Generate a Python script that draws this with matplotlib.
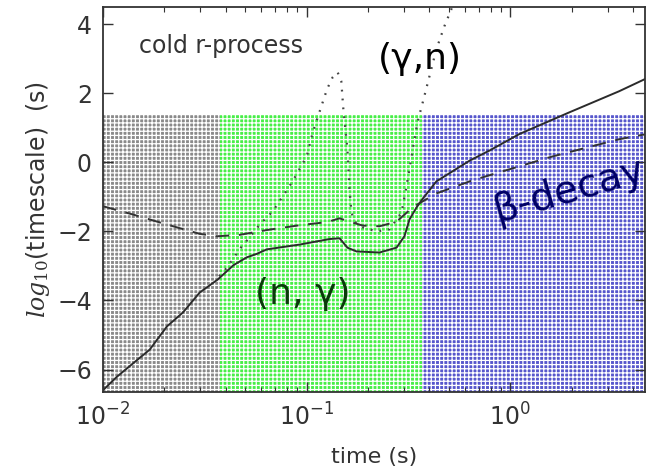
# ------------------------------------------------------------------------ #
#                                  MODULES                                 #
# ------------------------------------------------------------------------ #

import numpy as np
import matplotlib
matplotlib.use("Agg")
import matplotlib.pyplot as plt
from matplotlib.ticker import FixedLocator, LogLocator, NullFormatter

# settings
plt.rcParams['font.family'] = ['DejaVu Sans']
plt.rcParams['mathtext.fontset'] = 'dejavuserif'
plt.rcParams['hatch.linewidth'] = 0.9

# ---------------------------------------------------------------------------- #
#                                   VARIABLES                                  #
# ---------------------------------------------------------------------------- #

# total timescale (solid)
t_total = [0.0100, 0.01175, 0.01698, 0.02061, 0.02466, 0.02985, 0.03664,
           0.04365, 0.05082, 0.05689, 0.06368, 0.09247, 0.1297, 0.1452,
           0.1585, 0.1758, 0.2280, 0.2761, 0.3020, 0.3199, 0.3467, 0.3715,
           0.4335, 0.6310, 0.7943, 1.107, 1.950, 3.420, 4.571]
y_total = [-6.60, -6.20, -5.42, -4.75, -4.35, -3.77, -3.39,
           -2.98, -2.75, -2.65, -2.52, -2.38, -2.22, -2.20,
           -2.47, -2.58, -2.61, -2.47, -2.14, -1.65, -1.30, -1.05,
           -0.55, 0.05, 0.35, 0.82, 1.45, 2.06, 2.41]

# beta-decay timescale (dashed)
t_beta = [0.0100, 0.01403, 0.02061, 0.02985, 0.03631, 0.04677, 0.06368,
          0.09247, 0.1259, 0.1452, 0.1585, 0.1884, 0.2280, 0.2761,
          0.3311, 0.4335, 0.6310, 0.7621, 1.607, 3.420, 4.571]
y_beta = [-1.27, -1.51, -1.80, -2.07, -2.14, -2.10, -1.96,
          -1.82, -1.73, -1.62, -1.70, -1.83, -1.85, -1.72,
          -1.30, -0.90, -0.55, -0.40, 0.17, 0.67, 0.81]

# (gamma,n) timescale (dotted)
t_gn = [0.03715, 0.04074, 0.04677, 0.05248, 0.05888, 0.06808, 0.07621,
        0.08531, 0.1000, 0.1072, 0.1159, 0.1259, 0.1340, 0.1419, 0.1479,
        0.1514, 0.1585, 0.1622, 0.1660, 0.1718, 0.1884, 0.2203, 0.2553,
        0.2924, 0.3090, 0.3273, 0.3499, 0.3715, 0.4009, 0.4335, 0.4742,
        0.5129, 0.5370]
y_gn = [-3.30, -3.04, -2.52, -2.17, -1.80, -1.42, -0.99,
        -0.55, 0.17, 0.87, 1.48, 2.12, 2.46, 2.61, 2.35,
        1.54, 0.38, -0.78, -1.45, -1.71, -1.88, -2.00, -1.94,
        -1.45, -0.70, 0.17, 1.16, 1.74, 2.50, 3.28, 3.94,
        4.43, 4.80]

# shaded regimes
region_edges  = [0.01, 0.0375, 0.37, 4.6]
region_top    = 1.4
region_colors = ["#8a8a8a", "#48ee48", "#5656cc"]

XTICKS      = [0.01, 0.1, 1.0]
XTICKLABELS = [r"$\mathregular{10^{-2}}$", r"$\mathregular{10^{-1}}$",
               r"$\mathregular{10^{0}}$"]
YTICKS      = [-6, -4, -2, 0, 2, 4]

# ---------------------------------------------------------------------------- #
#                                   MAIN FUNC                                  #
# ---------------------------------------------------------------------------- #

fig = plt.figure(figsize=(6.46, 4.76), dpi=100)
ax = fig.add_axes([0.1594, 0.1765, 0.8396, 0.8088])

ax.set_xscale("log")
ax.set_xlim(0.01, 4.6)
ax.set_ylim(-6.65, 4.5)

# shaded regions: plain colour, then a white grid hatch on top
# (matplotlib draws 6 lines per inch for each '+', so '++++' ~ 4 px spacing)
left   = region_edges[:-1]
widths = np.diff(region_edges)
bottom = -10
ax.bar(left, region_top - bottom, width=widths, bottom=bottom, align="edge",
       color=region_colors, linewidth=0, zorder=1)
ax.bar(left, region_top - bottom, width=widths, bottom=bottom, align="edge",
       facecolor="none", edgecolor="white", hatch="++++", linewidth=0,
       zorder=1.5)

# curves
ax.plot(t_total, y_total, color="#2b2b2b", lw=1.4, zorder=3)
ax.plot(t_beta, y_beta, color="#333333", lw=1.4, ls=(0, (7, 5)), zorder=3)
ax.plot(t_gn, y_gn, color="#444444", lw=1.6, ls=(0, (0.8, 3.2)), zorder=3)

# annotations
ax.text(0.0151, 3.36, "cold r-process", fontsize=17, color="#333333",
        va="center", ha="left")
ax.text(0.358, 3.0, "(γ,n)", fontsize=26, color="black", ha="center", va="center")
ax.text(0.0955, -3.8, "(n, γ)", fontsize=26, color="#0a3a0a", ha="center", va="center")
ax.text(0.86, -1.75, "β-decay", fontsize=28, color="#000066", ha="left",
        va="baseline", rotation=16, rotation_mode="anchor")

# axes styling
ax.xaxis.set_major_locator(FixedLocator(XTICKS))
ax.set_xticklabels(XTICKLABELS)
ax.xaxis.set_minor_locator(LogLocator(base=10, subs=range(2, 10), numticks=20))
ax.xaxis.set_minor_formatter(NullFormatter())
ax.set_yticks(YTICKS)

ax.tick_params(which="both", direction="in", top=True, right=True,
               colors="#333333", labelcolor="#333333")
ax.tick_params(which="major", length=7, width=1.0, labelsize=17, pad=8)
ax.tick_params(which="minor", length=3.5, width=0.8)
for sp in ax.spines.values():
    sp.set_color("#333333")
    sp.set_linewidth(1.3)
    sp.set_zorder(5)

ax.set_xlabel("time (s)", fontsize=16, color="#333333", labelpad=12)
ax.set_ylabel(r"$log_{10}$(timescale)  (s)", fontsize=17, color="#333333",
              labelpad=4)

fig.savefig("out.png", dpi=100)
